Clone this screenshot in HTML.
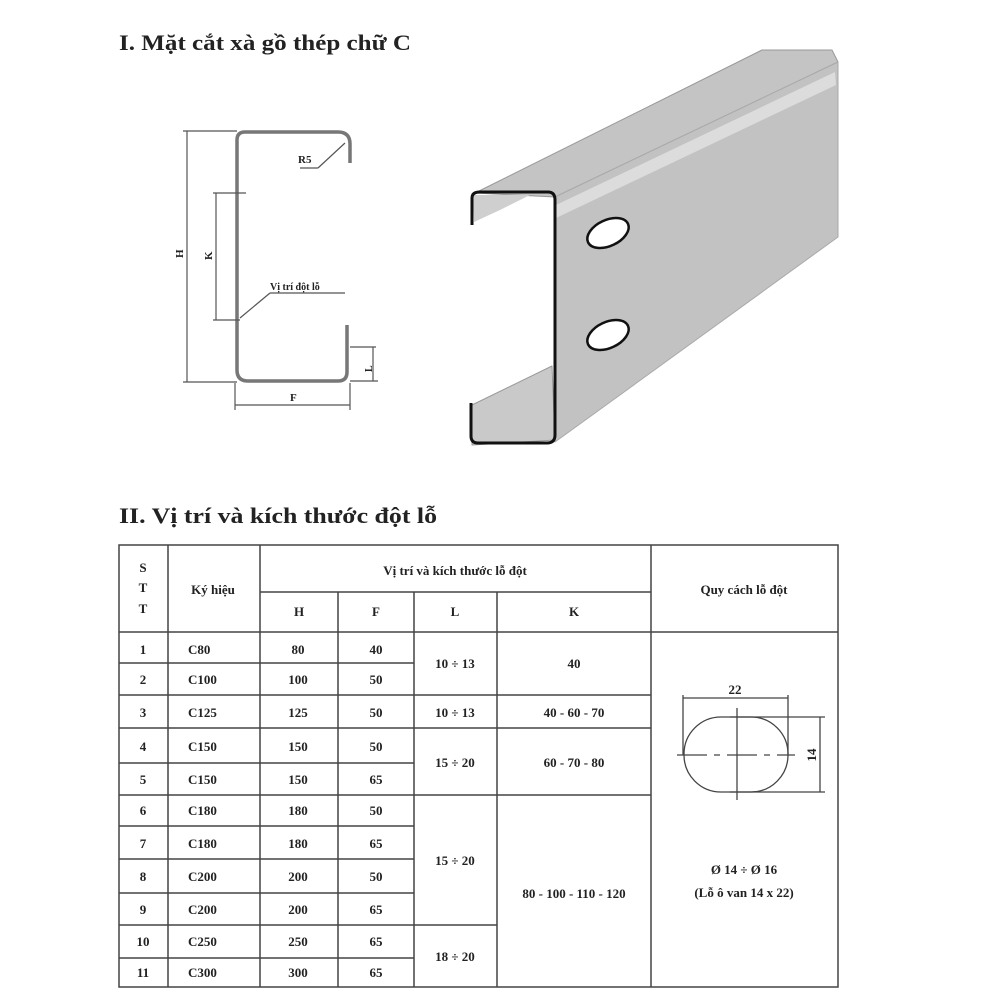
<!DOCTYPE html>
<html><head><meta charset="utf-8"><style>
html,body{margin:0;padding:0;background:#fff;}
svg{display:block}
text{font-family:"Liberation Serif",serif;font-weight:bold;fill:#222}
</style></head><body>
<svg width="1000" height="1000" viewBox="0 0 1000 1000" xmlns="http://www.w3.org/2000/svg">
<rect width="1000" height="1000" fill="#fff"/>
<text x="119" y="50" font-size="22" textLength="292" lengthAdjust="spacingAndGlyphs">I.  Mặt cắt xà gồ thép chữ C</text>
<text x="119" y="523" font-size="22" textLength="318" lengthAdjust="spacingAndGlyphs">II.  Vị trí và kích thước đột lỗ</text>

<!-- 2D section -->
<g stroke="#555" fill="none" stroke-width="1.2">
<path d="M237 370 V140 Q237 132 245 132 H338 Q350 132 350 144 V163" stroke-width="3.5" stroke="#777"/>
<path d="M237 370 Q237 381 248 381 H338 Q347 381 347 372 V325" stroke-width="3.5" stroke="#777"/>
<line x1="183" y1="131" x2="237" y2="131"/>
<line x1="187" y1="131" x2="187" y2="382"/>
<line x1="183" y1="382" x2="237" y2="382"/>
<line x1="213" y1="193" x2="246" y2="193"/>
<line x1="216" y1="193" x2="216" y2="320"/>
<line x1="213" y1="320" x2="240" y2="320"/>
<line x1="240" y1="318" x2="270" y2="293"/><line x1="270" y1="293" x2="345" y2="293"/>
<line x1="318" y1="168" x2="345" y2="143"/><line x1="300" y1="168" x2="318" y2="168"/>
<line x1="350" y1="347" x2="376" y2="347"/>
<line x1="373" y1="347" x2="373" y2="381"/>
<line x1="350" y1="381" x2="378" y2="381"/>
<line x1="235" y1="383" x2="235" y2="410"/>
<line x1="350" y1="383" x2="350" y2="410"/>
<line x1="235" y1="405" x2="350" y2="405"/>
</g>
<g font-size="11">
<text x="298" y="163">R5</text>
<text x="270" y="290" font-size="10">Vị trí đột lỗ</text>
<text x="290" y="401">F</text>
<text transform="translate(183,258) rotate(-90)">H</text>
<text transform="translate(212,260) rotate(-90)">K</text>
<text transform="translate(372,372) rotate(-90)" font-size="10">L</text>
</g>

<!-- 3D channel -->
<g stroke-linejoin="round">
<polygon points="475,193 762,50 832,50 838,62 555,197" fill="#c4c4c4" stroke="#999" stroke-width="1"/>
<polygon points="555,197 838,62 838,237 555,442" fill="#c2c2c2" stroke="#aaa" stroke-width="1"/>
<polygon points="556,205 835,72 836,85 556,218" fill="#dcdcdc"/>
<polygon points="472,405 552,366 555,440 472,445" fill="#c9c9c9" stroke="#999"/>
<polygon points="474,222 473,195 530,195 500,210" fill="#cfcfcf"/>
<path d="M472 225 V198 Q472 192 480 192 H548 Q555 192 555 200 V435 Q555 443 547 443 H478 Q471 443 471 436 V403" fill="none" stroke="#111" stroke-width="3"/>
<ellipse cx="608" cy="233" rx="22" ry="13" transform="rotate(-25 608 233)" fill="#fff" stroke="#111" stroke-width="2.5"/>
<ellipse cx="608" cy="335" rx="22" ry="13" transform="rotate(-25 608 335)" fill="#fff" stroke="#111" stroke-width="2.5"/>
</g>

<!-- table -->
<g stroke="#444" stroke-width="1.5" fill="none">
<rect x="119" y="545" width="719" height="442"/>
<line x1="168" y1="545" x2="168" y2="987"/>
<line x1="260" y1="545" x2="260" y2="987"/>
<line x1="651" y1="545" x2="651" y2="987"/>
<line x1="338" y1="592" x2="338" y2="987"/>
<line x1="414" y1="592" x2="414" y2="987"/>
<line x1="497" y1="592" x2="497" y2="987"/>
<line x1="260" y1="592" x2="651" y2="592"/>
<line x1="119" y1="632" x2="838" y2="632"/>
<line x1="119" y1="663" x2="414" y2="663"/>
<line x1="119" y1="695" x2="651" y2="695"/>
<line x1="119" y1="728" x2="651" y2="728"/>
<line x1="119" y1="763" x2="414" y2="763"/>
<line x1="119" y1="795" x2="651" y2="795"/>
<line x1="119" y1="826" x2="414" y2="826"/>
<line x1="119" y1="859" x2="414" y2="859"/>
<line x1="119" y1="893" x2="414" y2="893"/>
<line x1="119" y1="925" x2="497" y2="925"/>
<line x1="119" y1="958" x2="414" y2="958"/>
</g>
<g font-size="13" text-anchor="middle">
<text x="143" y="572">S</text><text x="143" y="592">T</text><text x="143" y="613">T</text>
<text x="213" y="594">Ký hiệu</text>
<text x="455" y="575">Vị trí và kích thước lỗ đột</text>
<text x="744" y="594">Quy cách lỗ đột</text>
<text x="299" y="616">H</text><text x="376" y="616">F</text><text x="455" y="616">L</text><text x="574" y="616">K</text>
</g>
<g font-size="13">
<g text-anchor="middle">
<text x="143" y="654">1</text><text x="143" y="684">2</text><text x="143" y="717">3</text><text x="143" y="751">4</text><text x="143" y="784">5</text><text x="143" y="815">6</text><text x="143" y="848">7</text><text x="143" y="881">8</text><text x="143" y="914">9</text><text x="143" y="946">10</text><text x="143" y="977">11</text>
<text x="298" y="654">80</text><text x="298" y="684">100</text><text x="298" y="717">125</text><text x="298" y="751">150</text><text x="298" y="784">150</text><text x="298" y="815">180</text><text x="298" y="848">180</text><text x="298" y="881">200</text><text x="298" y="914">200</text><text x="298" y="946">250</text><text x="298" y="977">300</text>
<text x="376" y="654">40</text><text x="376" y="684">50</text><text x="376" y="717">50</text><text x="376" y="751">50</text><text x="376" y="784">65</text><text x="376" y="815">50</text><text x="376" y="848">65</text><text x="376" y="881">50</text><text x="376" y="914">65</text><text x="376" y="946">65</text><text x="376" y="977">65</text>
<text x="455" y="668">10 ÷ 13</text><text x="455" y="717">10 ÷ 13</text><text x="455" y="767">15 ÷ 20</text><text x="455" y="865">15 ÷ 20</text><text x="455" y="961">18 ÷ 20</text>
<text x="574" y="668">40</text><text x="574" y="717">40 - 60 - 70</text><text x="574" y="767">60 - 70 - 80</text><text x="574" y="898">80 - 100 - 110 - 120</text>
<text x="744" y="874">Ø 14 ÷ Ø 16</text><text x="744" y="897">(Lỗ ô van 14 x 22)</text>
</g>
<text x="188" y="654">C80</text><text x="188" y="684">C100</text><text x="188" y="717">C125</text><text x="188" y="751">C150</text><text x="188" y="784">C150</text><text x="188" y="815">C180</text><text x="188" y="848">C180</text><text x="188" y="881">C200</text><text x="188" y="914">C200</text><text x="188" y="946">C250</text><text x="188" y="977">C300</text>
</g>
<!-- hole detail -->
<g stroke="#444" stroke-width="1.3" fill="none">
<rect x="684" y="717" width="104" height="75" rx="37" ry="37"/>
<line x1="683" y1="695" x2="683" y2="755"/>
<line x1="788" y1="695" x2="788" y2="755"/>
<line x1="683" y1="698" x2="788" y2="698"/>
<line x1="730" y1="717" x2="825" y2="717"/>
<line x1="730" y1="792" x2="825" y2="792"/>
<line x1="820" y1="717" x2="820" y2="792"/>
<line x1="737" y1="708" x2="737" y2="800"/>
<line x1="677" y1="755" x2="795" y2="755" stroke-dasharray="30 7 6 7"/>
</g>
<text x="735" y="694" font-size="13" text-anchor="middle">22</text>
<text transform="translate(816,755) rotate(-90)" font-size="13" text-anchor="middle">14</text>
</svg>
</body></html>
